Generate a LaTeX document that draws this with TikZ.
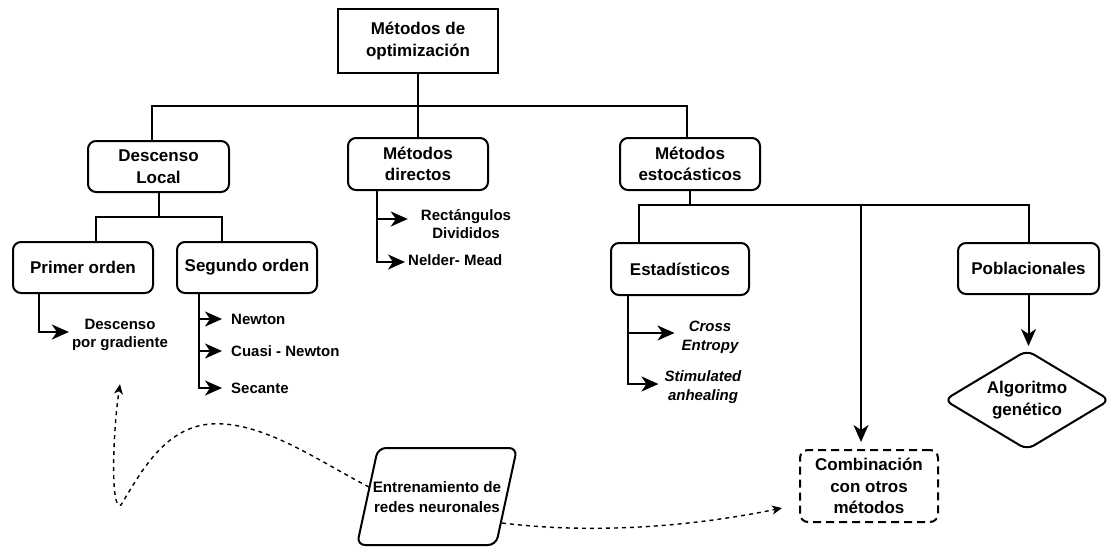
\documentclass[tikz,border=0pt]{standalone}
\usepackage{fontspec}
\setmainfont{Liberation Sans}
\usetikzlibrary{arrows.meta,shapes.geometric}
\begin{document}
\begin{tikzpicture}[x=1pt,y=-1pt,
  box/.style={draw, line width=2pt, rounded corners=8pt, inner sep=0pt, align=center,
    font=\fontsize{17}{21.5}\selectfont\bfseries},
  leaf/.style={inner sep=0pt, align=center, font=\fontsize{15}{18.5}\selectfont\bfseries},
  leafit/.style={leaf, font=\fontsize{15}{19}\selectfont\bfseries\itshape},
  link/.style={line width=2pt},
  arr/.style={line width=2pt, -{Stealth[length=17pt,width=15pt,inset=5pt]}},
  dlink/.style={line width=1.4pt, dash pattern=on 4pt off 4pt,
    -{Stealth[length=10pt,width=9pt,inset=3pt]}}
]
\useasboundingbox (0,0) rectangle (1110,547);

% main levels
\node[box, sharp corners, minimum width=160pt, minimum height=64pt] (top) at (418,41) {Métodos de\\optimización};
\node[box, minimum width=141pt, minimum height=51pt] (dl) at (158.5,166.5) {Descenso\\Local};
\node[box, minimum width=140pt, minimum height=52pt] (md) at (418,164) {Métodos\\directos};
\node[box, minimum width=140pt, minimum height=52pt] (me) at (690,164) {Métodos\\estocásticos};
\node[box, minimum width=140pt, minimum height=51pt] (po) at (83,267.5) {Primer orden};
\node[box, minimum width=140pt, minimum height=51pt] (so) at (247,267.5) {Segundo orden};
\node[box, minimum width=138pt, minimum height=52pt] (es) at (680,269) {Estadísticos};
\node[box, minimum width=141pt, minimum height=51pt] (pb) at (1028.5,268.5) {Poblacionales};
\node[box, diamond, aspect=1.66, minimum width=166pt, minimum height=100pt] (ag) at (1027,400) {Algoritmo\\genético};
\node[box, dash pattern=on 8pt off 5pt, minimum width=138pt, minimum height=72pt] (cb) at (869,486) {Combinación\\con otros\\métodos};

% leaves
\node[leaf] (dg) at (120,335) {Descenso\\por gradiente};
\node[leaf, anchor=west] (nw) at (231,319) {Newton};
\node[leaf, anchor=west] (cn) at (231,351) {Cuasi - Newton};
\node[leaf, anchor=west] (sc) at (231,388) {Secante};
\node[leaf] (rd) at (466,224) {Rectángulos\\Divididos};
\node[leaf, anchor=west] (nm) at (408,260) {Nelder- Mead};
\node[leafit] (ce) at (710,337) {Cross\\Entropy};
\node[leafit] (sa) at (703,387) {Stimulated\\anhealing};

% training block (parallelogram)
\node[leaf, font=\fontsize{15.2}{20}\selectfont\bfseries] (ent) at (437,497) {Entrenamiento de\\redes neuronales};
\draw[line width=2pt, rounded corners=8pt]
  ([xshift=-80pt,yshift=-48pt]ent.center) -- ([xshift=-59pt,yshift=49pt]ent.center)
  -- ([xshift=80pt,yshift=49pt]ent.center) -- ([xshift=59pt,yshift=-48pt]ent.center) -- cycle;

% bus lines
\coordinate (bar1) at (0,106);
\coordinate (bar2) at (0,217);
\coordinate (bar3) at (0,205);
\coordinate (dlt) at ([xshift=-6.5pt]dl.north);
\coordinate (met) at ([xshift=-3pt]me.north);
\draw[link] (top.south) |- (dlt |- bar1) -- (dlt);
\draw[link] (top.south) |- (met |- bar1) -- (met);
\draw[link] (top.south) -- (md.north);

\coordinate (pot) at ([xshift=13pt]po.north);
\coordinate (sot) at ([xshift=-25pt]so.north);
\draw[link] (dl.south) |- (pot |- bar2) -- (pot);
\draw[link] (dl.south) |- (sot |- bar2) -- (sot);

\coordinate (est) at ([xshift=-41pt]es.north);
\coordinate (cbt) at ([xshift=-8pt]cb.north);
\draw[link] (me.south) |- (est |- bar3) -- (est);
\draw[link] (me.south) |- (pb.north |- bar3) -- (pb.north);
\draw[arr] (cbt |- bar3) -- ([yshift=7pt]cbt);
\draw[arr] (pb.south) -- ([yshift=3pt]pb.south |- ag.north);

% leaf arrows
\coordinate (dgt) at ([xshift=-3pt,yshift=3pt]dg.west);
\draw[arr] ([xshift=-44pt]po.south) |- (dgt);

\coordinate (sov) at ([xshift=-48pt]so.south);
\draw[arr] (sov) |- ([xshift=-9pt]sc.west);
\draw[arr] (sov |- nw.west) -- ([xshift=-9pt]nw.west);
\draw[arr] (sov |- cn.west) -- ([xshift=-9pt]cn.west);

\coordinate (mdv) at ([xshift=-41pt]md.south);
\coordinate (rdt) at ([xshift=-13pt,yshift=5pt]rd.west);
\coordinate (nmt) at ([xshift=-3pt,yshift=-2pt]nm.west);
\draw[arr] (mdv) |- (nmt);
\draw[arr] (mdv |- rdt) -- (rdt);

\coordinate (esv) at ([xshift=-52pt]es.south);
\coordinate (cet) at ([xshift=-7pt,yshift=4pt]ce.west);
\coordinate (sat) at ([xshift=-6pt,yshift=3pt]sa.west);
\draw[arr] (esv) |- (sat);
\draw[arr] (esv |- cet) -- (cet);

% dashed links from the training block
\draw[dlink] ([xshift=-68pt,yshift=10pt]ent.center)
  .. controls (320,462) and (262,420) .. (210,424)
  .. controls (165,428) and (142,470) .. (121,505)
  .. controls (110,512) and (113,430) .. ([yshift=-33pt]dg.south);
\draw[dlink] ([xshift=65pt,yshift=-26pt]ent.center)
  .. controls (600,535) and (700,525) .. ([xshift=-17pt,yshift=-22pt]cb.west);
\end{tikzpicture}
\end{document}
